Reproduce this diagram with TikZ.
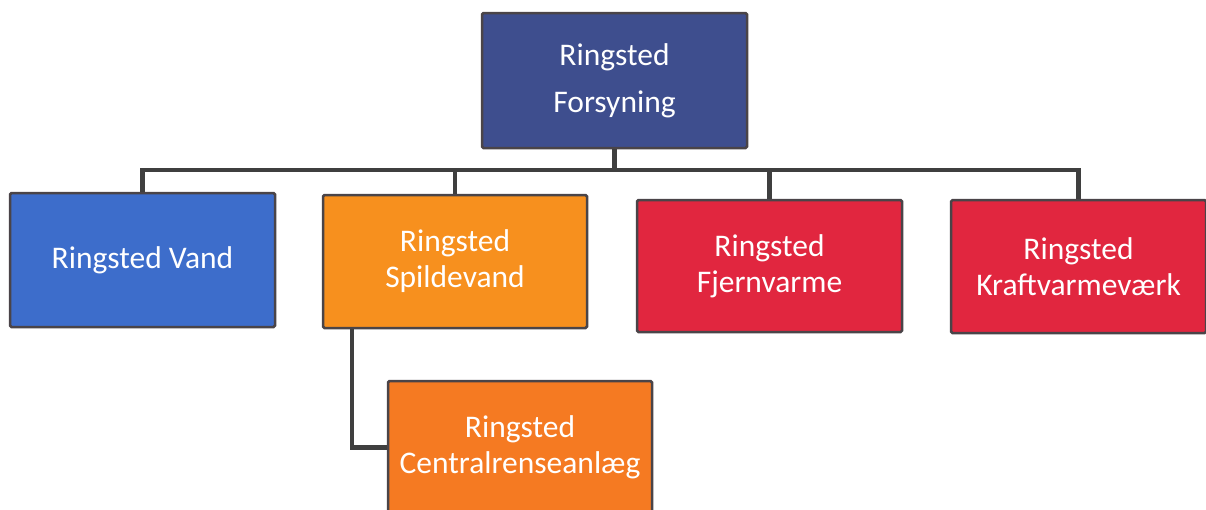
\documentclass[tikz,border=0pt]{standalone}
\usepackage{fontspec}
\setmainfont{Carlito}
\usetikzlibrary{calc}
\definecolor{topblue}{HTML}{3E4E8E}
\definecolor{vandblue}{HTML}{3D6DCB}
\definecolor{orgA}{HTML}{F7901E}
\definecolor{orgB}{HTML}{F57A22}
\definecolor{redA}{HTML}{E1263F}
\definecolor{lineclr}{HTML}{3F3F3F}
\definecolor{edgeclr}{HTML}{4A4448}
\tikzset{
  orgbox/.style={draw=edgeclr, line width=2.5pt, rounded corners=1.5pt, text=white, align=center, inner sep=0pt,
    font=\fontsize{31.5}{36}\selectfont},
  link/.style={draw=lineclr, line width=4.5pt}
}
\begin{document}
\begin{tikzpicture}[x=1pt,y=-1pt]
\useasboundingbox (0,0) rectangle (1206,509);
\fill[white] (0,0) rectangle (1206,509);
\node[orgbox, fill=topblue, minimum width=265pt, minimum height=135pt, font=\fontsize{31.5}{47}\selectfont] (top) at (614.5,80.5) {Ringsted\\Forsyning};
\node[orgbox, fill=vandblue, minimum width=265pt, minimum height=134pt] (vand) at (142.5,260) {Ringsted Vand};
\node[orgbox, fill=orgA, minimum width=264pt, minimum height=133pt] (spild) at (455,261.5) {Ringsted\\Spildevand};
\node[orgbox, fill=redA, minimum width=265pt, minimum height=132pt] (fjern) at (769.5,266) {Ringsted\\Fjernvarme};
\node[orgbox, fill=redA, minimum width=255pt, minimum height=133pt] (kraft) at (1078.5,266.5) {Ringsted\\Kraftvarmeværk};
\node[orgbox, fill=orgB, minimum width=264pt, minimum height=133pt] (central) at (520,447.5) {Ringsted\\Centralrenseanlæg};
\coordinate (bus) at (614.5,170);
\draw[link] (top.south) -- (bus);
\draw[link] (bus) -| (vand.north);
\draw[link] (bus) -| (spild.north);
\draw[link] (bus) -| (fjern.north);
\draw[link] (bus) -| (kraft.north);
\draw[link] ([xshift=30pt]spild.south west) |- (central.west);
\end{tikzpicture}
\end{document}
